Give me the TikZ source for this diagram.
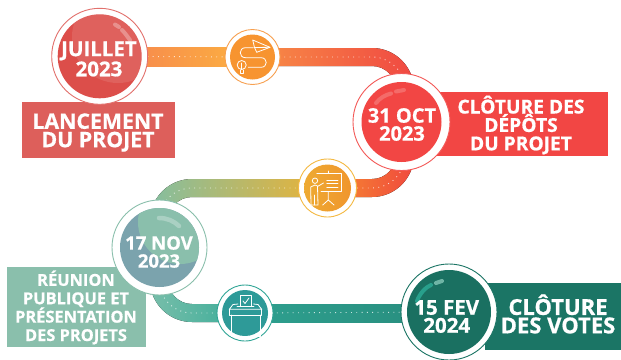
\documentclass[tikz,border=0pt]{standalone}
\usepackage{fontspec}
\setmainfont{Open Sans}[BoldFeatures={FakeBold=0.7}]
\usetikzlibrary{calc}
\definecolor{redA}{HTML}{DC4E4A}
\definecolor{redB}{HTML}{F24644}
\definecolor{tealD}{HTML}{1B7565}
\definecolor{sage}{HTML}{8ABFAC}
\definecolor{slate}{HTML}{7BA3AD}
\tikzset{
  ring/.style={circle,inner sep=0pt,minimum size=#1,fill=white,draw,line width=0.9pt},
  disc/.style={circle,inner sep=0pt,minimum size=#1,draw=none},
  label box/.style={rectangle,inner sep=0pt,draw=none},
  datetxt/.style={text=white,font=\bfseries\fontsize{#1}{18}\selectfont,align=center,inner sep=0pt},
  boxtxt/.style={text=white,font=\bfseries\fontsize{#1}{18.4}\selectfont,align=center,inner sep=0pt},
  dotline/.style={draw=white,line width=0.9pt,dash pattern=on 0.9pt off 4.4pt,opacity=.75},
  ico/.style={draw=white,line width=0.8pt,line join=round,line cap=round},
  gloss/.style={line width=#1,line cap=round,draw=white,opacity=.2},
}
\begin{document}
\begin{tikzpicture}[x=1pt,y=-1pt]
\useasboundingbox (0,0) rectangle (621,359);
\fill[white] (0,0) rectangle (621,359);
% anchors
\coordinate (c1) at (99.7,56.3);
\coordinate (c2) at (401.5,122);
\coordinate (c3) at (159.5,247.5);
\coordinate (c4) at (449,312);
\coordinate (i1) at (252.5,57);
\coordinate (i2) at (327.5,188);
\coordinate (i3) at (245,313);
\coordinate (k1) at (405,57);
\coordinate (k2) at (405,188);
\coordinate (k3) at (159,188);
\coordinate (k4) at (159,313);
% bands
\fill[left color={rgb,255:red,246;green,128;blue,80},right color={rgb,255:red,252;green,178;blue,64}] ($(c1)+(0,-9)$) rectangle ($(i1)+(0,9)$);
\fill[left color={rgb,255:red,248;green,142;blue,70},right color={rgb,255:red,240;green,72;blue,66}]
  ($(i1)+(0,-9)$) [rounded corners=42pt] -- ($(k1)+(9,-9)$) -- ($(k1)+(9,65)$) [rounded corners=2pt] -- ($(k1)+(-9,65)$) [rounded corners=24pt] -- ($(k1)+(-9,9)$) [sharp corners] -- ($(i1)+(0,9)$) -- cycle;
\fill[left color={rgb,255:red,246;green,140;blue,48},right color={rgb,255:red,240;green,72;blue,62}]
  ($(i2)+(0,9)$) [rounded corners=42pt] -- ($(k2)+(9,9)$) -- ($(k2)+(9,-65)$) [rounded corners=2pt] -- ($(k2)+(-9,-65)$) [rounded corners=24pt] -- ($(k2)+(-9,-9)$) [sharp corners] -- ($(i2)+(0,-9)$) -- cycle;
\fill[left color={rgb,255:red,132;green,190;blue,160},right color={rgb,255:red,236;green,178;blue,52}]
  ($(i2)+(0,-9)$) [rounded corners=42pt] -- ($(k3)+(-9,-9)$) -- ($(k3)+(-9,60)$) [rounded corners=2pt] -- ($(k3)+(9,60)$) [rounded corners=24pt] -- ($(k3)+(9,9)$) [sharp corners] -- ($(i2)+(0,9)$) -- cycle;
\fill[left color={rgb,255:red,120;green,190;blue,170},right color={rgb,255:red,58;green,172;blue,152}]
  ($(i3)+(0,9)$) [rounded corners=42pt] -- ($(k4)+(-9,9)$) -- ($(k4)+(-9,-60)$) [rounded corners=2pt] -- ($(k4)+(9,-60)$) [rounded corners=24pt] -- ($(k4)+(9,-9)$) [sharp corners] -- ($(i3)+(0,-9)$) -- cycle;
\fill[left color={rgb,255:red,46;green,160;blue,143},right color={rgb,255:red,40;green,140;blue,125}] ($(i3)+(0,-9)$) rectangle ($(c4)+(0,10)$);
% dots
\draw[dotline] (c1) -- (i1);
\draw[dotline,rounded corners=33pt] (i1) -- (k1) -- (k2) -- (i2);
\draw[dotline,rounded corners=33pt] (i2) -- (k3) -- (k4) -- (i3);
\draw[dotline] (i3) -- (c4);
% boxes
\node[label box,fill={rgb,255:red,221;green,95;blue,91},minimum width=153pt,minimum height=55.5pt] (b1) at (98.5,129.8) {};
\node[label box,fill=redB,minimum width=175pt,minimum height=64pt] (b2) at (520.5,124) {};
\node[label box,fill=sage,minimum width=139.5pt,minimum height=80.5pt] (b3) at (76.7,307.2) {};
\node[label box,fill=tealD,minimum width=136pt,minimum height=66.5pt] (b4) at (553,316.7) {};
% big circles
\node[ring=96pt,draw={rgb,255:red,226;green,112;blue,108}] (r1) at (c1) {};
\node[disc=84pt,fill=redA] (d1) at (c1) {};
\node[ring=97pt,draw=redB!90!white] (r2) at (c2) {};
\node[disc=80pt,fill=redB] (d2) at (c2) {};
\node[ring=95pt,draw=sage] (r3) at (c3) {};
\node[disc=79pt,fill=slate] (d3) at (c3) {};
\node[ring=96pt,draw=tealD] (r4) at (c4) {};
\node[disc=84pt,fill=tealD!96!black] (d4) at (c4) {};
% gloss
\begin{scope}
\clip (c1) circle (42pt);
\fill[white,opacity=.11] (118,37) circle (46pt);
\end{scope}
\draw[gloss=4pt,opacity=.3] (115,24.5) -- (119,27);
\draw[gloss=4pt,opacity=.3] (122,30) .. controls (125,33) and (127,36) .. (130,40);
\draw[gloss=4pt] (376,103) .. controls (380,98) and (385,95) .. (391,93.5);
\draw[gloss=4pt] (396,91.5) -- (404,90);
\begin{scope}
\clip (c3) circle (39.5pt);
\fill[sage] (180,222) circle (42pt);
\end{scope}
\draw[gloss=4.5pt,opacity=.28] (159,218) .. controls (167,218) and (174,221) .. (179,226);
\draw[line width=4pt,line cap=round,draw={rgb,255:red,40;green,160;blue,140}] (417,301) .. controls (420,293) and (426,287) .. (431,285);
\draw[line width=4pt,line cap=round,draw={rgb,255:red,110;green,180;blue,165}] (436,283) -- (442,281);
% date text
\node[datetxt=20.5] (t1) at (99,59) {JUILLET\\2023};
\node[datetxt=20] (t2) at (402,124.5) {31 OCT\\2023};
\node[datetxt=18.5] (t3) at (159,252) {17 NOV\\2023};
\node[datetxt=20.5] (t4) at (446.7,316.5) {15 FEV\\2024};
% box text
\node[boxtxt=21.3] (x1) at (98,132.5) {LANCEMENT\\DU PROJET};
\node[boxtxt=19.2] (x2) at (521,125) {CLÔTURE DES\\DÉPÔTS\\DU PROJET};
\node[boxtxt=16.4] (x3) at (76,307.5) {RÉUNION\\PUBLIQUE ET\\PRÉSENTATION\\DES PROJETS};
\node[boxtxt=22] (x4) at (558,314) {CLÔTURE\\DES VOTES};
% icon circles
\node[ring=55pt,draw={rgb,255:red,247;green,160;blue,80}] (ir1) at (i1) {};
\node[disc=45pt,fill={rgb,255:red,247;green,148;blue,48}] (id1) at (i1) {};
\node[ring=58pt,draw={rgb,255:red,244;green,185;blue,66}] (ir2) at (i2) {};
\node[disc=47pt,left color={rgb,255:red,238;green,170;blue,50},right color={rgb,255:red,240;green,150;blue,45}] (id2) at (i2) {};
\node[ring=56pt,draw={rgb,255:red,48;green,165;blue,150}] (ir3) at (i3) {};
\node[disc=46pt,fill={rgb,255:red,46;green,154;blue,152}] (id3) at (i3) {};
% icon 1
\draw[ico] (252.7,40) -- (270,47.3) -- (256.7,52.3) -- (254.5,47.5) -- cycle;
\draw[ico] (254.5,47.5) -- (270,47.3);
\draw[ico] (253.3,47.7) -- (245.5,47.7) .. controls (238.5,47.7) and (238.5,57.7) .. (245.5,57.7) -- (261,57.7) .. controls (268,57.7) and (268,67.3) .. (261,67.3) -- (248.3,67.3);
\draw[ico] (241.7,65) circle (4.5pt);
\draw[ico] (240,70) -- (240,73) -- (243.5,73) -- (243.5,70);
\draw[ico] (241.7,63) -- (241.7,69.5);
% icon 2
\draw[ico] (316.7,173.5) -- (341.7,173.5) -- (341.7,191.7) -- (321,191.7);
\draw[ico] (328.3,171) -- (328.3,173.5);
\draw[ico] (326.7,180) -- (338,180) (326.7,183.5) -- (338,183.5) (326.7,187) -- (338,187);
\draw[ico] (315,180.7) circle (2.7pt);
\draw[ico] (323.5,183) -- (317.5,186.5) -- (318,205) -- (311,205) -- (310.7,187) -- (315,185) -- (317.5,186);
\draw[ico] (314.5,195) -- (314.5,205);
\draw[ico] (328.3,191.7) -- (328.3,200) -- (322.7,205) (328.3,200) -- (334,205);
% icon 3
\draw[ico] (240,306.7) -- (240,295) -- (251.7,295) -- (251.7,306.7);
\draw[ico] (243,301) -- (245,303.5) -- (249,298);
\draw[ico] (238,304) -- (233,304.5) -- (229.3,309.3) -- (261.7,309.3) -- (258,304.5) -- (253.5,304);
\draw[ico] (237,306.7) -- (254,306.7);
\draw[ico] (229.3,309.3) -- (229.3,315) -- (261.7,315) -- (261.7,309.3);
\draw[ico] (231,315) -- (231,336.5) -- (260,336.5) -- (260,315);
\end{tikzpicture}
\end{document}
